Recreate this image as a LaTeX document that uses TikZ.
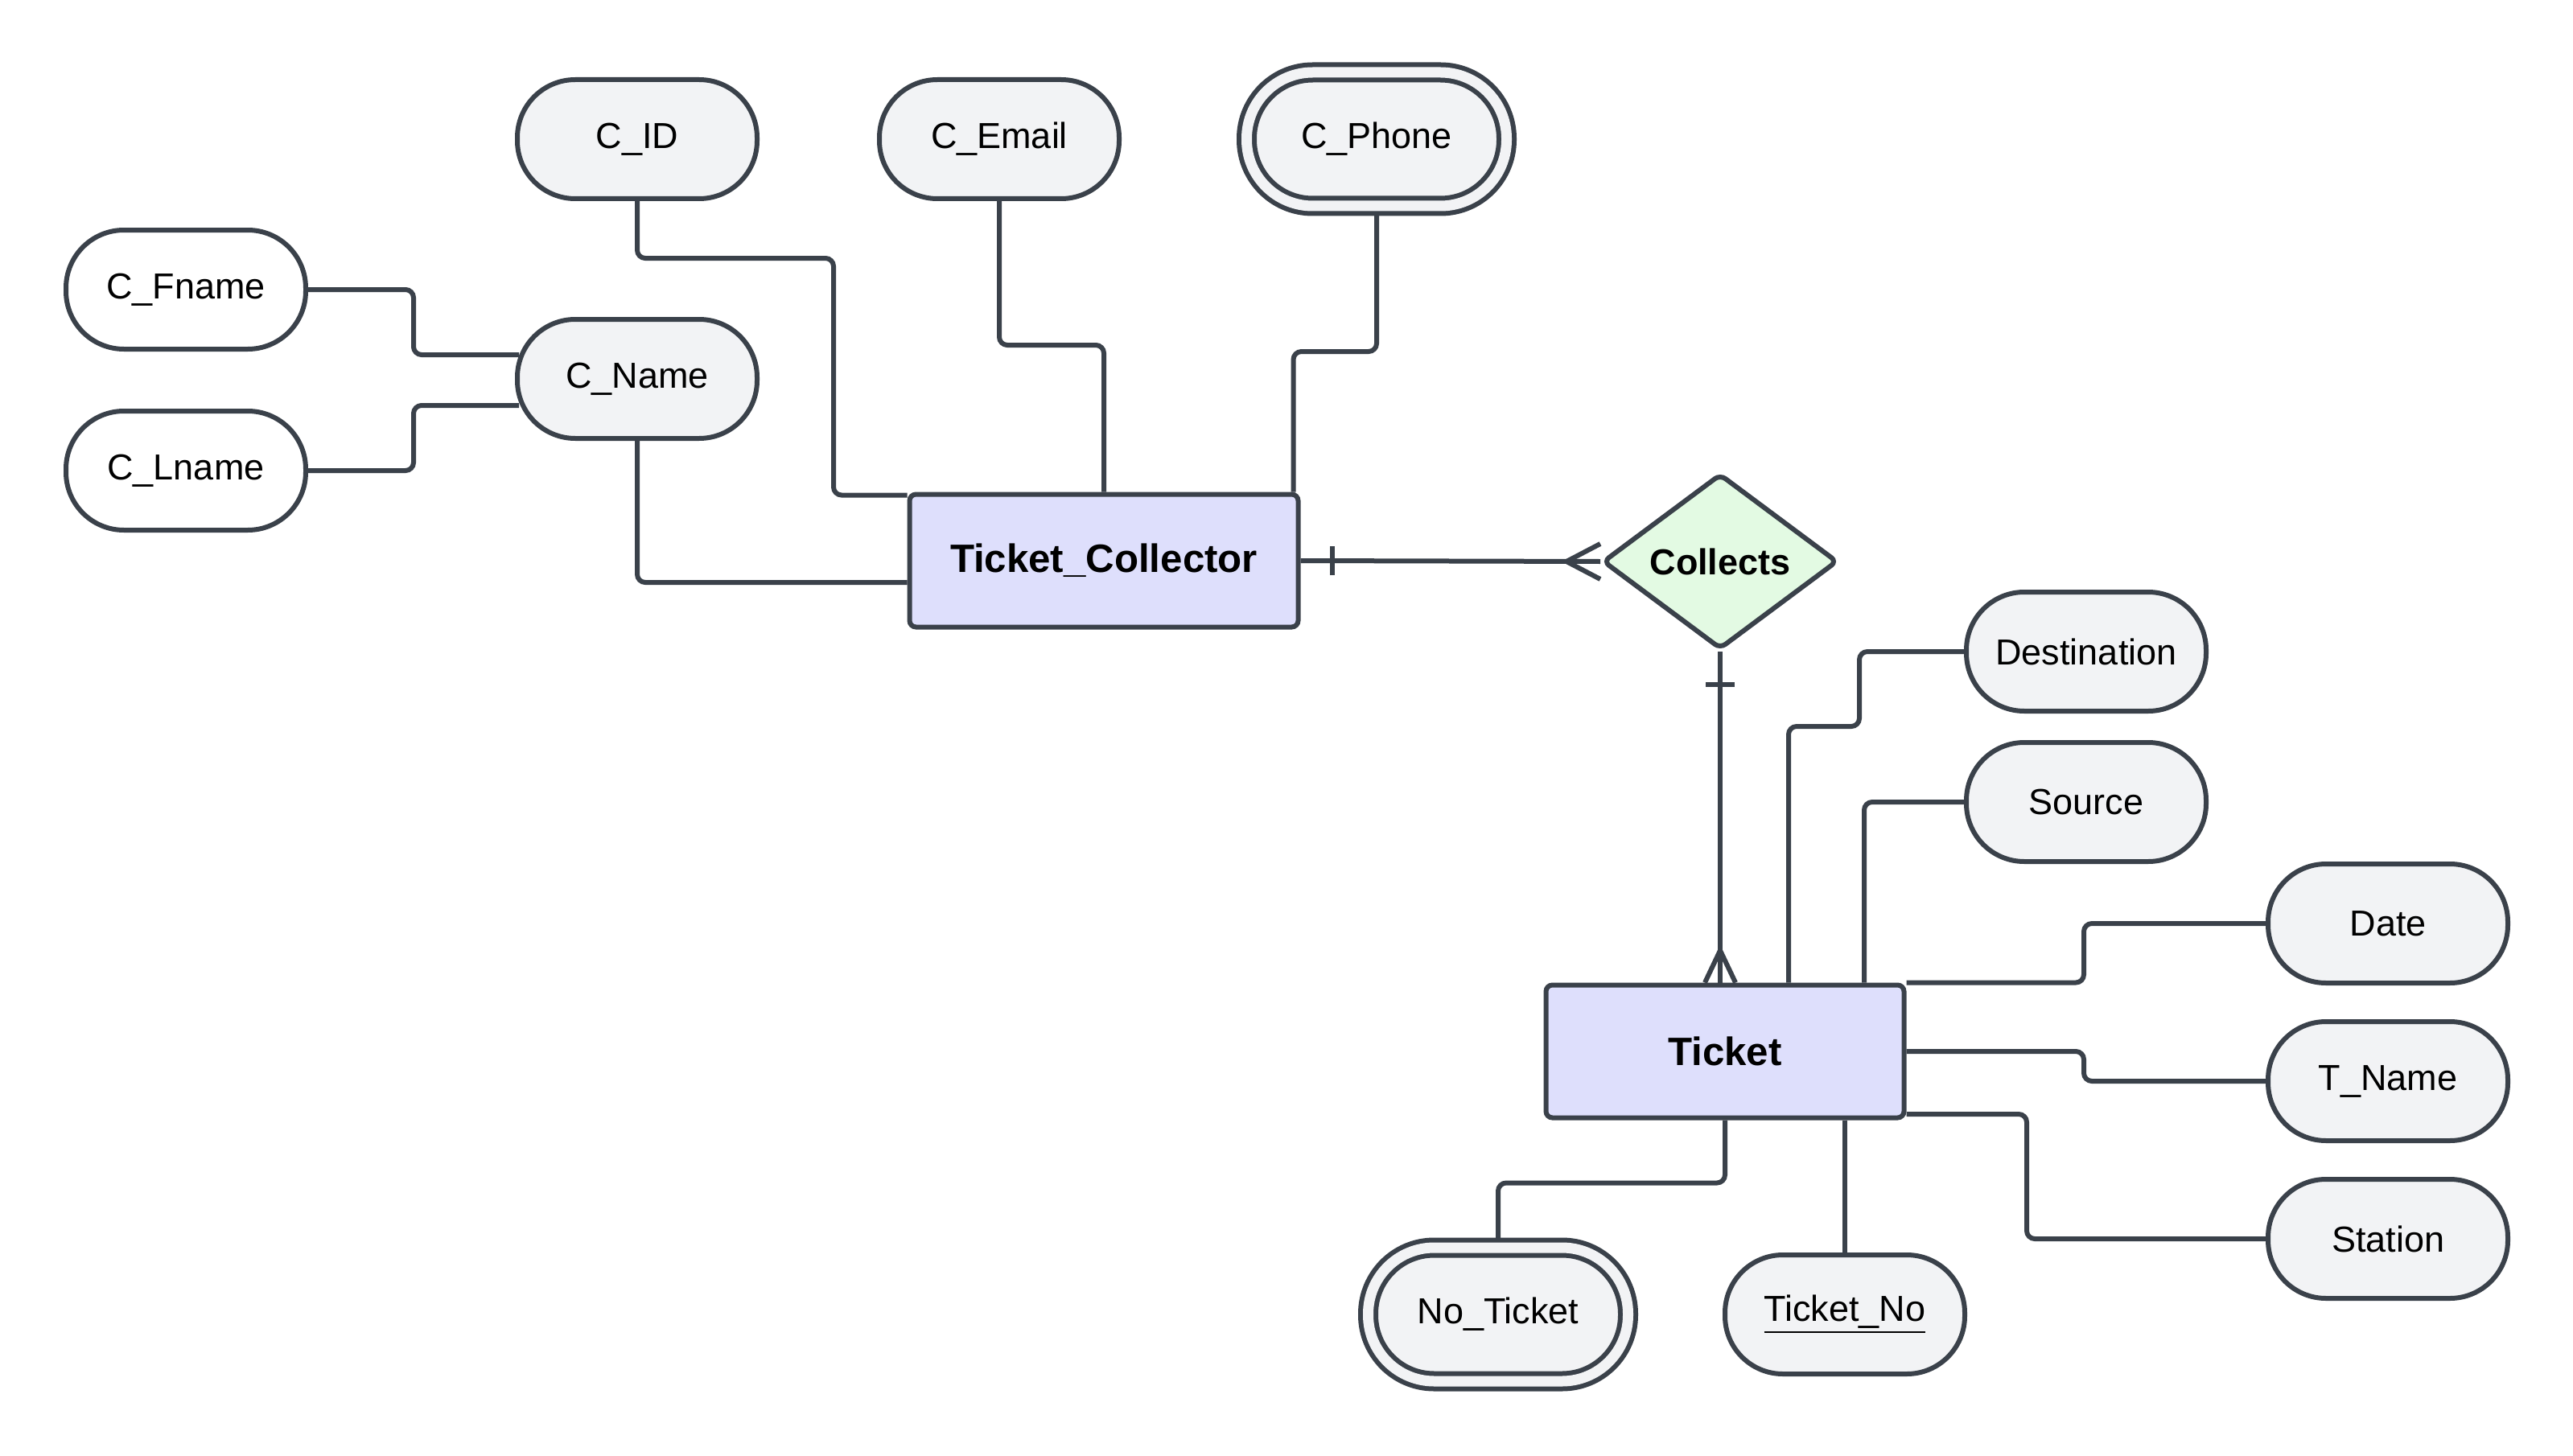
\documentclass[tikz,border=0pt]{standalone}
\usepackage{fontspec}
\setmainfont{Liberation Sans}
\usepackage{xcolor}
\usetikzlibrary{shapes.geometric}
\usetikzlibrary{positioning}
\definecolor{linha}{HTML}{3A414A}
\definecolor{attrfill}{HTML}{F2F3F5}
\definecolor{entfill}{HTML}{DEDFFC}
\definecolor{relfill}{HTML}{E3FAE3}
\tikzset{
  attr/.style={draw=linha, line width=0.06cm, fill=attrfill, rounded corners=0.72cm, minimum width=2.98cm, minimum height=1.48cm, inner sep=0pt, font=\fontsize{12.8}{15}\selectfont},
  attrbranco/.style={attr, fill=white},
  multi/.style={attr, double=attrfill, double distance=0.13cm, minimum width=3.23cm, minimum height=1.66cm, rounded corners=0.82cm},
  ent/.style={draw=linha, line width=0.06cm, fill=entfill, rounded corners=0.08cm, minimum height=1.65cm, inner sep=0pt, font=\fontsize{14}{17}\selectfont\bfseries},
  rel/.style={diamond, aspect=1.34, draw=linha, line width=0.06cm, fill=relfill, rounded corners=0.08cm, minimum width=2.92cm, minimum height=2.18cm, inner sep=0pt, font=\fontsize{12.8}{15}\selectfont\bfseries},
  conn/.style={draw=linha, line width=0.06cm, rounded corners=0.1cm},
}

\begin{document}
\begin{tikzpicture}
  \useasboundingbox (0,0) rectangle (31.98,-18.10);
  % entidades e relacionamento
  \node[ent, minimum width=4.83cm] (tc) at (13.72,-6.97) {Ticket\_Collector};
  \node[ent, minimum width=4.45cm] (tk) at (21.44,-13.07) {Ticket};
  \node[rel] (col) at (21.38,-6.98) {Collects};
  % atributos do Ticket_Collector
  \node[attr] (cid) at (7.92,-1.73) {C\_ID};
  \node[attr] (cem) at (12.42,-1.73) {C\_Email};
  \node[multi] (cph) at (17.11,-1.73) {C\_Phone};
  \node[attr] (cname) at (7.92,-4.71) {C\_Name};
  \node[attrbranco] (cf) at (2.31,-3.60) {C\_Fname};
  \node[attrbranco, below=0.71cm of cf] (cl) {C\_Lname};
  % atributos do Ticket
  \node[attr] (dest) at (25.93,-8.10) {Destination};
  \node[attr, below=0.33cm of dest] (src) {Source};
  \node[attr] (date) at (29.68,-11.48) {Date};
  \node[attr, below=0.42cm of date] (tname) {T\_Name};
  \node[attr, below=0.42cm of tname] (st) {Station};
  \node[multi] (nt) at (18.62,-16.34) {No\_Ticket};
  \node[attr] (tno) at (22.93,-16.34) {\underline{Ticket\_No}};
  % ligacoes
  \draw[conn] (cid.south) |- ++(2.44,-0.71) |- ([yshift=-0.04cm]tc.north west);
  \draw[conn] (cname.south) |- ([yshift=-0.27cm]tc.west);
  \draw[conn] (cf.east) -- ++(1.31,0) |- ([xshift=0.05cm, yshift=0.30cm]cname.west);
  \draw[conn] (cl.east) -- ++(1.31,0) |- ([xshift=0.05cm, yshift=-0.33cm]cname.west);
  \draw[conn] (cem.south) -- ++(0,-1.79) -| (tc.north);
  \draw[conn, shorten <=0.09cm] (cph.south) -- ++(0,-1.78) -| ([xshift=-0.09cm]tc.north east);
  \draw[conn] (tc.east) -- (col.west);
  \draw[conn] (col.south) -- (col.south |- tk.north);
  \draw[conn] (dest.west) -- ++(-1.30,0) -- ++(0,-0.93) -| ([xshift=0.79cm]tk.north);
  \draw[conn] (src.west) -| ([xshift=1.73cm]tk.north);
  \draw[conn] (date.west) -- ++(-2.26,0) |- (tk.north east);
  \draw[conn] (tname.west) -- ++(-2.26,0) |- (tk.east);
  \draw[conn] (st.west) -- ++(-2.97,0) |- ([yshift=-0.78cm]tk.east);
  \draw[conn, shorten >=0.09cm] (tk.south) -- ++(0,-0.78) -| (nt.north);
  \draw[conn] (tk.south -| tno.north) -- (tno.north);
  % cardinalidades
  \draw[conn] ([xshift=0.39cm, yshift=0.18cm]tc.east) -- ++(0,-0.36);
  \draw[conn] ([xshift=-0.42cm]col.west) -- ([yshift=0.22cm]col.west);
  \draw[conn] ([xshift=-0.42cm]col.west) -- ([yshift=-0.22cm]col.west);
  \draw[conn] ([xshift=-0.18cm, yshift=-0.41cm]col.south) -- ++(0.36,0);
  \draw[conn] ([yshift=0.40cm]col.south |- tk.north) -- ([xshift=-0.19cm]col.south |- tk.north);
  \draw[conn] ([yshift=0.40cm]col.south |- tk.north) -- ([xshift=0.19cm]col.south |- tk.north);
\end{tikzpicture}
\end{document}
